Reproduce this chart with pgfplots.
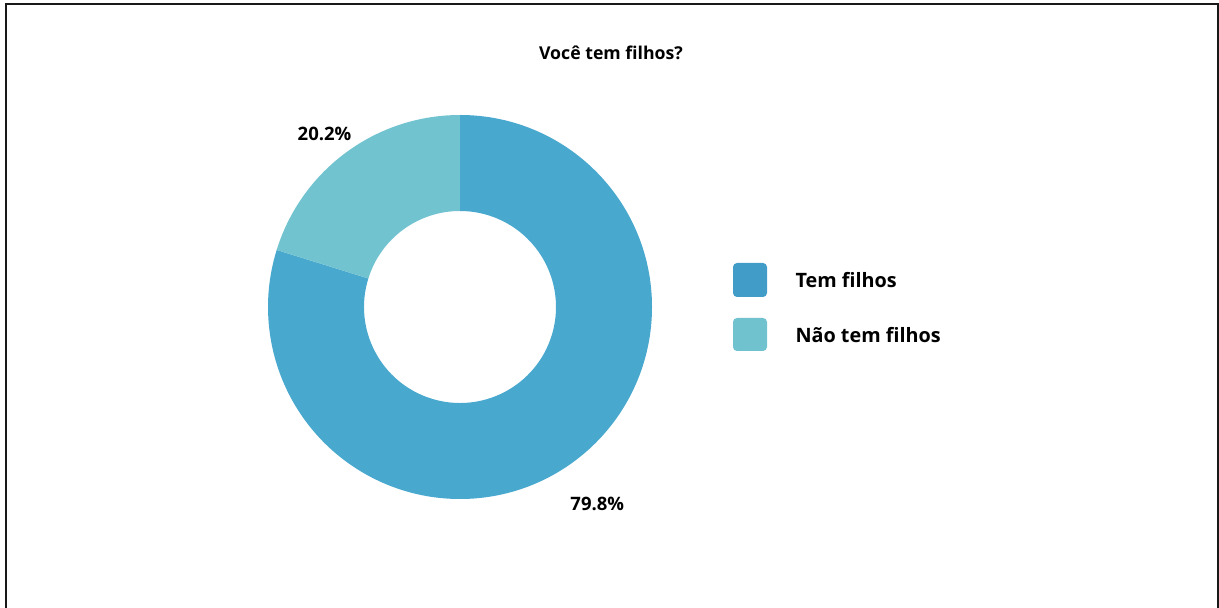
\documentclass[border=0pt]{standalone}
\usepackage{pgfplots}
\pgfplotsset{compat=1.18}
\usepackage{pgfplotstable}
\usepackage{fontspec}
\setmainfont{Open Sans}
\definecolor{colA}{HTML}{48A8CE}
\definecolor{colB}{HTML}{72C3D0}
\definecolor{legA}{HTML}{429CC8}
\definecolor{legB}{HTML}{70C2CF}
\pgfplotstableread[col sep=comma]{
label,value
Tem filhos,79.8
Não tem filhos,20.2
}\datatable
\pgfplotstablegetelem{0}{value}\of\datatable \pgfmathsetmacro\va{\pgfplotsretval}
\pgfplotstablegetelem{1}{value}\of\datatable \pgfmathsetmacro\vb{\pgfplotsretval}
\pgfmathsetmacro\total{\va+\vb}
\pgfmathsetmacro\fa{\va/\total}
\pgfmathsetmacro\fb{\vb/\total}
\pgfmathsetmacro\aA{90-360*\fa}
\pgfmathsetmacro\aB{\aA-360*\fb}
\pgfmathsetmacro\mA{(90+\aA)/2}
\pgfmathsetmacro\mB{(\aA+\aB)/2}
\begin{document}
\begin{tikzpicture}
\begin{axis}[
  width=1219pt, height=608pt, scale only axis,
  xmin=0, xmax=1219, ymin=0, ymax=608,
  axis lines=none, clip=false,
]
\coordinate (c) at (axis cs:460,301);
% wedges
\fill[colA] ([shift={(90:192pt)}]c) arc[start angle=90,end angle=\aA,radius=192pt]
  -- ([shift={(\aA:96pt)}]c) arc[start angle=\aA,end angle=90,radius=96pt] -- cycle;
\fill[colB] ([shift={(\aA:192pt)}]c) arc[start angle=\aA,end angle=\aB,radius=192pt]
  -- ([shift={(\aB:96pt)}]c) arc[start angle=\aB,end angle=\aA,radius=96pt] -- cycle;
% value labels
\node[font=\fontsize{18.5}{21}\selectfont\bfseries, xshift=-8pt] at ([shift={(\mA:245pt)}]c) {\pgfmathprintnumber[fixed,precision=1,fixed zerofill,assume math mode=true]{\va}\%};
\node[font=\fontsize{18.5}{21}\selectfont\bfseries, xshift=-8pt] at ([shift={(\mB:215pt)}]c) {\pgfmathprintnumber[fixed,precision=1,fixed zerofill,assume math mode=true]{\vb}\%};
% title
\node[font=\fontsize{17.7}{20}\selectfont\bfseries] at (axis cs:611,555) {Você tem filhos?};
% legend
\fill[legA, rounded corners=4pt] (axis cs:733,345) rectangle (axis cs:767,311);
\fill[legB, rounded corners=4pt] (axis cs:733,290) rectangle (axis cs:767,257);
\node[anchor=west, font=\fontsize{19.8}{22}\selectfont\bfseries] at (axis cs:792,328) {Tem filhos};
\node[anchor=west, font=\fontsize{19.8}{22}\selectfont\bfseries] at (axis cs:792,273) {Não tem filhos};
% frame
\draw[line width=2.2pt, color=black!90] (axis cs:5.8,-5) -- (axis cs:5.8,604.2) -- (axis cs:1217.6,604.2) -- (axis cs:1217.6,-5);
\end{axis}
\pgfresetboundingbox
\path[use as bounding box] (0,0) rectangle (1219pt,608pt);
\end{tikzpicture}
\end{document}
